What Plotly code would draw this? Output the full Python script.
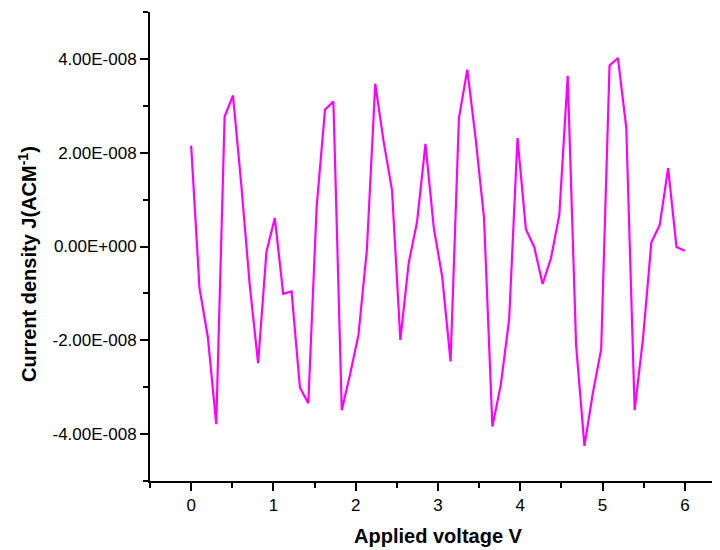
import plotly.graph_objects as go

# Applied voltage (V)
voltage = [0.0, 0.1017, 0.2034, 0.3051, 0.4068, 0.5085, 0.6102, 0.7119, 0.8136, 0.9153,
           1.0169, 1.1186, 1.2203, 1.3220, 1.4237, 1.5254, 1.6271, 1.7288, 1.8305, 1.9322,
           2.0339, 2.1356, 2.2373, 2.3390, 2.4407, 2.5424, 2.6441, 2.7458, 2.8475, 2.9492,
           3.0508, 3.1525, 3.2542, 3.3559, 3.4576, 3.5593, 3.6610, 3.7627, 3.8644, 3.9661,
           4.0678, 4.1695, 4.2712, 4.3729, 4.4746, 4.5763, 4.6780, 4.7797, 4.8814, 4.9831,
           5.0847, 5.1864, 5.2881, 5.3898, 5.4915, 5.5932, 5.6949, 5.7966, 5.8983, 6.0]

# Current density (units of 1e-8)
current_e8 = [2.15, -0.89, -1.94, -3.79, 2.77, 3.22, 1.30, -0.82, -2.49, -0.11,
              0.61, -1.01, -0.96, -3.01, -3.34, 0.85, 2.92, 3.09, -3.49, -2.72,
              -1.88, -0.07, 3.47, 2.24, 1.21, -1.99, -0.35, 0.53, 2.19, 0.39,
              -0.64, -2.45, 2.74, 3.77, 2.30, 0.61, -3.84, -2.95, -1.56, 2.31,
              0.37, -0.01, -0.80, -0.25, 0.68, 3.64, -2.10, -4.25, -3.13, -2.19,
              3.86, 4.02, 2.53, -3.49, -1.96, 0.09, 0.46, 1.67, -0.01, -0.09]
current = [v * 1e-8 for v in current_e8]

y_tickvals = [-4e-8, -2e-8, 0.0, 2e-8, 4e-8]
y_ticktext = ["-4.00E-008", "-2.00E-008", "0.00E+000", "2.00E-008", "4.00E-008"]
x_tickvals = [0, 1, 2, 3, 4, 5, 6]
x_ticktext = ["0", "1", "2", "3", "4", "5", "6"]

FONT = "Arial, Liberation Sans, sans-serif"

fig = go.Figure()
fig.add_trace(go.Scatter(x=voltage, y=current, mode="lines",
                         line=dict(color="#FF00FF", width=2.2), showlegend=False))

fig.update_layout(
    width=720, height=550,
    margin=dict(l=142, r=2, t=4, b=77),
    plot_bgcolor="white", paper_bgcolor="white",
    font=dict(family=FONT, size=17, color="black"),
)
fig.update_xaxes(
    automargin=False,
    range=[-0.5, 6.5], showgrid=False, zeroline=False,
    showline=True, linecolor="black", linewidth=2,
    ticks="outside", ticklen=8, tickwidth=2, tickcolor="black",
    tickvals=x_tickvals, ticktext=x_ticktext,
    minor=dict(tickvals=[-0.5, 0.5, 1.5, 2.5, 3.5, 4.5, 5.5, 6.5], ticks="outside",
               ticklen=5, tickwidth=2, tickcolor="black"),
    title=dict(text="<b>Applied voltage V</b>", font=dict(size=20, family=FONT)),
)
fig.update_yaxes(
    automargin=False,
    range=[-5e-8, 5e-8], showgrid=False, zeroline=False,
    showline=True, linecolor="black", linewidth=2,
    ticks="outside", ticklen=8, tickwidth=2, tickcolor="black",
    tickvals=y_tickvals, ticktext=y_ticktext,
    minor=dict(tickvals=[-5e-8, -3e-8, -1e-8, 1e-8, 3e-8, 5e-8], ticks="outside",
               ticklen=5, tickwidth=2, tickcolor="black"),
)
fig.add_annotation(
    text="<b>Current density J(ACM<sup>-1</sup>)</b>",
    xref="paper", yref="paper", x=(19 - 142) / 576, y=(473 - 256) / 469,
    xanchor="center", yanchor="middle", textangle=-90, showarrow=False,
    font=dict(size=20, family=FONT, color="black"),
)

fig.write_html("out.html")
